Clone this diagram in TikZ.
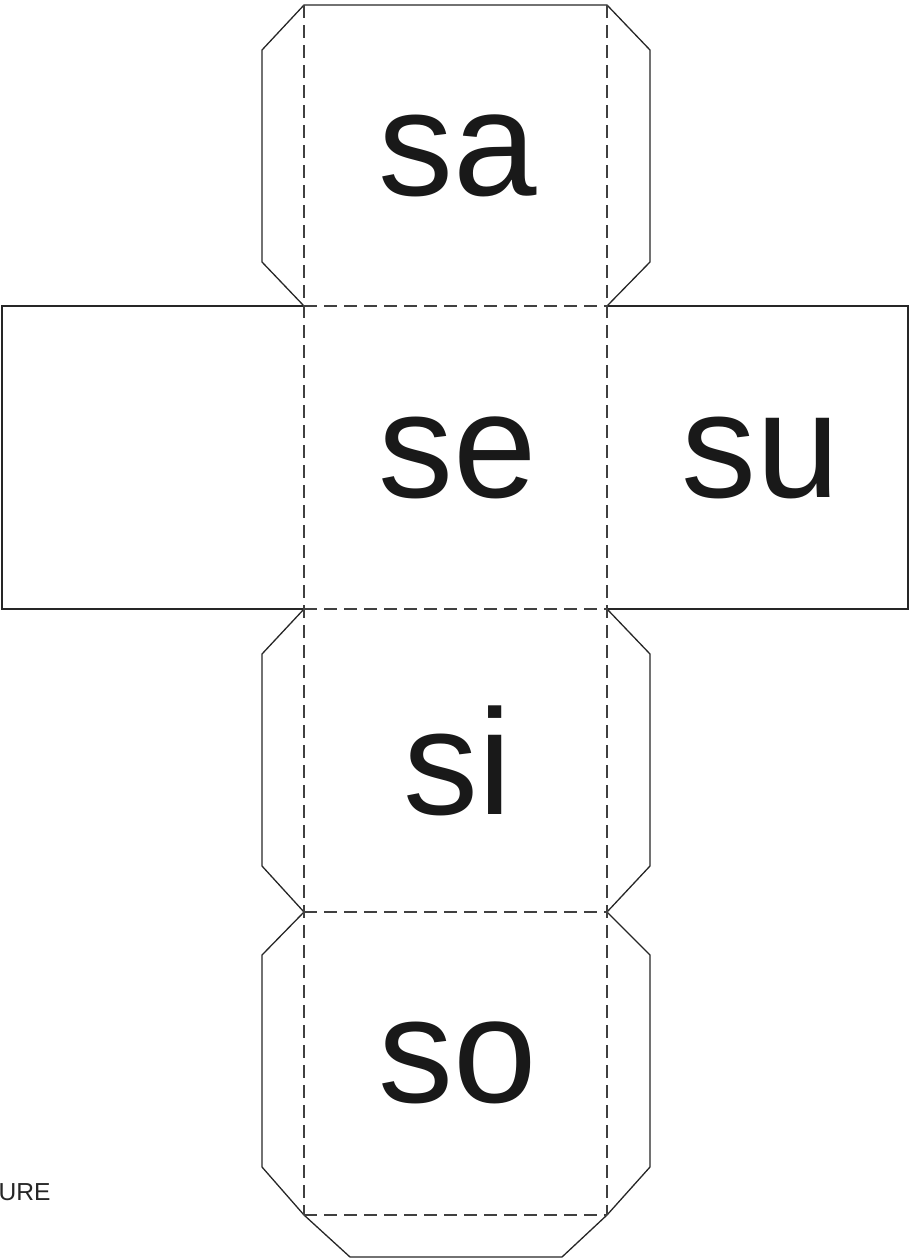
\documentclass[tikz,border=0pt]{standalone}
\usepackage{fontspec}
\setmainfont{Liberation Sans}
\usepackage{tikz}
\usetikzlibrary{positioning}

\begin{document}
\begin{tikzpicture}
	[x=0.5pt, y=-0.5pt, line width=0.65pt,
	cut/.style	= {draw=black!85, line join=miter},
	fold/.style	= {draw=black!75, dash pattern=on 6.5pt off 3.5pt},
	syllable/.style	= {font=\fontsize{75}{90}\selectfont, text=black!90, inner sep=0pt},
	caption/.style	= {font=\fontsize{12.3}{14}\selectfont, text=black!85, inner sep=0pt, anchor=west}]

	\useasboundingbox (0,0) rectangle (909,1259);

	% cut lines
	\draw [cut] (304,306) -- (262,262) -- (262,50) -- (304,5) -- (607,5) -- (650,50) -- (650,262) -- (607,306);
	\draw [cut] (304,306) -- (2,306) -- (2,609) -- (304,609);
	\draw [cut] (607,306) -- (908,306) -- (908,609) -- (607,609);
	\draw [cut] (304,609) -- (262,654) -- (262,866) -- (304,912);
	\draw [cut] (607,609) -- (650,654) -- (650,866) -- (607,912);
	\draw [cut] (304,912) -- (262,955) -- (262,1167) -- (304,1215) -- (350,1257) -- (562,1257) -- (607,1215) -- (650,1167) -- (650,955) -- (607,912);

	% fold lines
	\draw [fold] (304,5) -- (304,1215);
	\draw [fold] (607,5) -- (607,1215);
	\foreach \y in {306,609,912,1215}
		\draw [fold] (304,\y) -- (607,\y);

	\node at (458,156)	[syllable]	(sa)	{sa};
	\node at (458,458)	[syllable]	(se)	{se};
	\node at (761,458)	[syllable]	(su)	{su};
	\node at (458,761)	[syllable]	(si)	{si};
	\node at (458,1063)	[syllable]	(so)	{so};

	\node at (-2,1192)	[caption]	(fig)	{URE};
\end{tikzpicture}
\end{document}
